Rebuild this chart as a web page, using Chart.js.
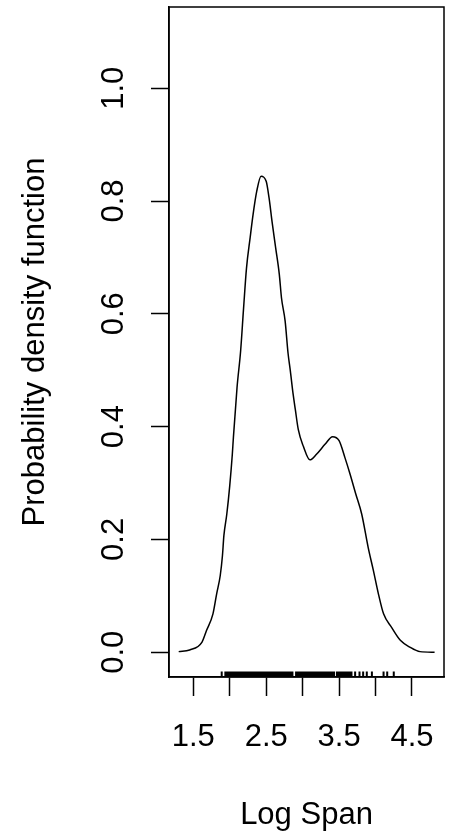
<!DOCTYPE html>
<html>
<head>
<meta charset="utf-8">
<script src="https://cdn.jsdelivr.net/npm/chart.js@4.4.1/dist/chart.umd.min.js"></script>
<style>
    body { margin: 0; background: #fff; }
</style>
</head>
<body>
<canvas id="densityChart" width="454" height="834"></canvas>
<script>
    // Density estimate of log span
    const logSpan = [
        1.30, 1.45, 1.62, 1.68, 1.77, 1.82, 1.87, 1.90, 1.92, 1.96,
        2.00, 2.035, 2.05, 2.10, 2.15, 2.19, 2.23, 2.28, 2.32, 2.37,
        2.43, 2.50, 2.54, 2.58, 2.63, 2.68, 2.71, 2.76, 2.80, 2.83,
        2.87, 2.90, 2.94, 3.01, 3.10, 3.19, 3.31, 3.41, 3.50, 3.58,
        3.65, 3.73, 3.81, 3.90, 3.97, 4.04, 4.11, 4.22, 4.34, 4.47,
        4.61, 4.81,
    ];
    const density = [
        0.001, 0.004, 0.018, 0.038, 0.068, 0.103, 0.136, 0.171, 0.207, 0.245,
        0.295, 0.350, 0.380, 0.469, 0.535, 0.610, 0.681, 0.735, 0.776, 0.817,
        0.844, 0.835, 0.805, 0.764, 0.717, 0.670, 0.628, 0.587, 0.530, 0.500,
        0.457, 0.430, 0.395, 0.365, 0.341, 0.351, 0.369, 0.382, 0.375, 0.345,
        0.316, 0.280, 0.245, 0.185, 0.145, 0.103, 0.068, 0.044, 0.021, 0.009,
        0.001, 0.000,
    ];

    // Observations shown as a rug under the curve
    const rugValues = [
        1.89,
        1.94, 1.96, 1.98, 2.00, 2.02, 2.04, 2.06, 2.08, 2.10, 2.12, 2.14, 2.16,
        2.18, 2.20, 2.22, 2.24, 2.26, 2.28, 2.30, 2.32, 2.34, 2.36, 2.38, 2.40,
        2.42, 2.44, 2.46, 2.48, 2.50, 2.52, 2.54, 2.56, 2.58, 2.60, 2.62, 2.64,
        2.66, 2.68, 2.70, 2.72, 2.74, 2.76, 2.78, 2.80, 2.82, 2.84, 2.86,
        2.91, 2.93, 2.95, 2.97, 2.99, 3.01, 3.03, 3.05, 3.07, 3.09, 3.11, 3.13,
        3.15, 3.17, 3.19, 3.21, 3.23, 3.25, 3.27, 3.29, 3.31, 3.33, 3.35, 3.37,
        3.39, 3.41, 3.43,
        3.47, 3.49, 3.51, 3.53, 3.55, 3.57, 3.59, 3.61, 3.63, 3.65, 3.67,
        3.72, 3.78, 3.83, 3.88, 3.95, 4.11, 4.16, 4.25,
    ];

    const xTicks = [1.5, 2.0, 2.5, 3.0, 3.5, 4.0, 4.5];
    const xTickLabels = ["1.5", "", "2.5", "", "3.5", "", "4.5"];
    const yTicks = [0.0, 0.2, 0.4, 0.6, 0.8, 1.0];
    const yTickLabels = ["0.0", "0.2", "0.4", "0.6", "0.8", "1.0"];

    const xTitle = "Log Span";
    const yTitle = "Probability density function";

    const FONT = "31px 'Liberation Sans', Arial, sans-serif";

    /*
     * Box, rug and all axis text (R style) */
    const rPlotDecor = {
        id: "rPlotDecor",
        afterDatasetsDraw(chart) {
            const { ctx, chartArea, scales } = chart;
            const x = scales.x;
            const y = scales.y;

            ctx.save();

            // box around the plot region
            ctx.strokeStyle = "#000";
            ctx.lineWidth = 1.5;
            ctx.strokeRect(chartArea.left, chartArea.top,
                chartArea.right - chartArea.left, chartArea.bottom - chartArea.top);

            // rug
            ctx.lineWidth = 2;
            ctx.lineCap = "butt";
            ctx.beginPath();
            rugValues.forEach((v) => {
                const px = x.getPixelForValue(v);
                ctx.moveTo(px, chartArea.bottom);
                ctx.lineTo(px, chartArea.bottom - 5.5);
            });
            ctx.stroke();

            ctx.fillStyle = "#000";
            ctx.font = FONT;
            ctx.textBaseline = "alphabetic";
            ctx.textAlign = "center";

            // x tick labels
            xTicks.forEach((v, i) => {
                if (xTickLabels[i]) {
                    ctx.fillText(xTickLabels[i], x.getPixelForValue(v), 746);
                }
            });

            // x title
            ctx.fillText(xTitle, (chartArea.left + chartArea.right) / 2, 824);

            // y tick labels, rotated like R's default
            yTicks.forEach((v, i) => {
                ctx.save();
                ctx.translate(123, y.getPixelForValue(v));
                ctx.rotate(-Math.PI / 2);
                ctx.fillText(yTickLabels[i], 0, 0);
                ctx.restore();
            });

            // y title
            ctx.save();
            ctx.translate(43.5, (chartArea.top + chartArea.bottom) / 2);
            ctx.rotate(-Math.PI / 2);
            ctx.fillText(yTitle, 0, 0);
            ctx.restore();

            ctx.restore();
        },
    };

    const ctx = document.getElementById("densityChart");

    new Chart(ctx, {
        type: "scatter",
        data: {
            datasets: [
                {
                    label: "density",
                    data: logSpan.map((v, i) => ({ x: v, y: density[i] })),
                    showLine: true,
                    borderColor: "#000",
                    borderWidth: 1.5,
                    pointRadius: 0,
                    cubicInterpolationMode: "monotone",
                },
            ],
        },
        options: {
            responsive: false,
            animation: false,
            layout: {
                padding: { top: 7, right: 10, left: 0, bottom: 0 },
            },
            plugins: {
                legend: { display: false },
                tooltip: { enabled: false },
            },
            scales: {
                x: {
                    type: "linear",
                    min: 1.167,
                    max: 4.939,
                    afterBuildTicks: (s) => {
                        s.ticks = xTicks.map((v) => ({ value: v }));
                    },
                    afterFit: (s) => {
                        s.height = 157;
                    },
                    ticks: { display: false },
                    grid: {
                        drawOnChartArea: false,
                        drawTicks: true,
                        tickLength: 19,
                        tickColor: "#000",
                        tickWidth: 1.5,
                    },
                    border: { display: true, color: "#000", width: 1.5 },
                },
                y: {
                    min: -0.044,
                    max: 1.144,
                    afterBuildTicks: (s) => {
                        s.ticks = yTicks.map((v) => ({ value: v }));
                    },
                    afterFit: (s) => {
                        s.width = 169;
                    },
                    ticks: { display: false },
                    grid: {
                        drawOnChartArea: false,
                        drawTicks: true,
                        tickLength: 18,
                        tickColor: "#000",
                        tickWidth: 1.5,
                    },
                    border: { display: true, color: "#000", width: 1.5 },
                },
            },
        },
        plugins: [rPlotDecor],
    });
</script>
</body>
</html>
